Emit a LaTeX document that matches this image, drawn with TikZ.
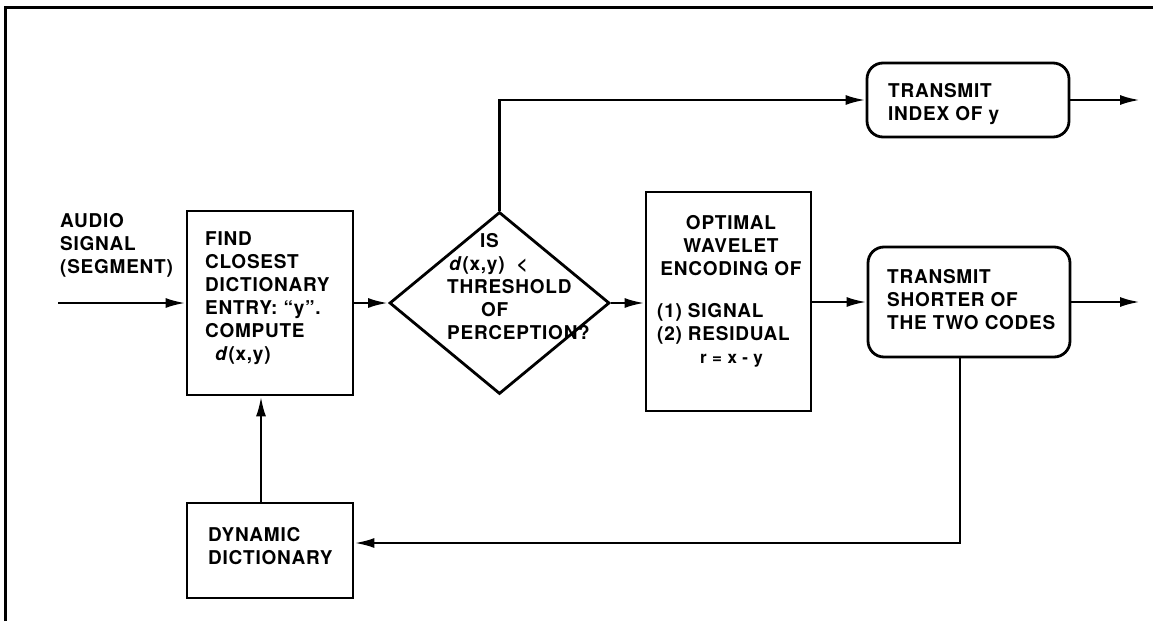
\documentclass[tikz,border=0pt]{standalone}
\usepackage{fontspec}
\setmainfont{TeX Gyre Heros}[LetterSpace=4]
\usetikzlibrary{shapes.geometric,arrows.meta}
\begin{document}
\begin{tikzpicture}[x=1pt,y=-1pt,
  blk/.style={draw,line width=2.8pt,inner sep=0pt},
  rbox/.style={blk,rounded corners=16pt},
  txt/.style={inner sep=0pt,font=\fontsize{19}{23}\selectfont\bfseries,align=left},
  conn/.style={line width=2.6pt,-{Latex[length=20pt,width=10pt]}},
  plain/.style={line width=2.6pt}]
\useasboundingbox (0,0) rectangle (1153,621);
% frame
\draw[line width=3pt] (5,621) -- (5,7) -- (1153,7);
% boxes
\node[blk,minimum width=166pt,minimum height=184pt] (find) at (270,303) {};
\node[blk,diamond,minimum width=220pt,minimum height=182pt] (diam) at (499.5,303) {};
\node[blk,minimum width=165pt,minimum height=219pt] (opt) at (728.5,301.5) {};
\node[rbox,minimum width=202pt,minimum height=74pt] (tidx) at (968,100) {};
\node[rbox,minimum width=202pt,minimum height=110pt] (tshort) at (969,302) {};
\node[blk,minimum width=166pt,minimum height=95pt] (dyn) at (270,550.5) {};
% texts
\node[txt,anchor=west] (audio) at (60,245) {AUDIO\\SIGNAL\\(SEGMENT)};
\node[txt,anchor=west] (findtxt) at (205,298) {FIND\\CLOSEST\\DICTIONARY\\ENTRY: “y”.\\COMPUTE\\\hspace*{10pt}\textit{d}(x,y)};
\node[txt,anchor=west] (diamtxt) at (447,287) {\hspace*{33pt}IS\\\hspace*{2pt}\textit{d}(x,y)\hspace{12pt}<\\THRESHOLD\\\hspace*{34pt}OF\\PERCEPTION?};
\node[txt,align=center] (opttxtA) at (731,246) {OPTIMAL\\WAVELET\\ENCODING OF};
\node[txt,anchor=west] (opttxtB) at (657,335) {(1) SIGNAL\\(2) RESIDUAL\\\hspace*{43pt}{\fontsize{17}{23}\selectfont r = x - y}};
\node[txt,anchor=west] (tidxtxt) at (888,104.5) {TRANSMIT\\INDEX OF y};
\node[txt,anchor=west] (tshorttxt) at (887,300) {TRANSMIT\\SHORTER OF\\THE TWO CODES};
\node[txt,anchor=west] (dyntxt) at (208,546.5) {DYNAMIC\\DICTIONARY};
% connectors
\coordinate (in) at (58,303);
\coordinate (out1) at (1140,100);
\coordinate (out2) at (1140,302);
\coordinate (fb) at (960,543);
\coordinate (up) at (261,0);
\draw[conn] (in) -- (find.west);
\draw[conn] (find.east) -- (diam.west);
\draw[conn] (diam.east) -- (diam.east -| opt.west);
\draw[conn] (diam.north) |- (tidx.west);
\draw[conn] (tidx.east) -- (out1);
\draw[conn] (opt.east |- tshort.west) -- (tshort.west);
\draw[conn] (tshort.east) -- (out2);
\draw[conn] (fb |- tshort.south) -- (fb) -- (fb -| dyn.east);
\draw[conn] (up |- dyn.north) -- (up |- find.south);
\end{tikzpicture}
\end{document}
